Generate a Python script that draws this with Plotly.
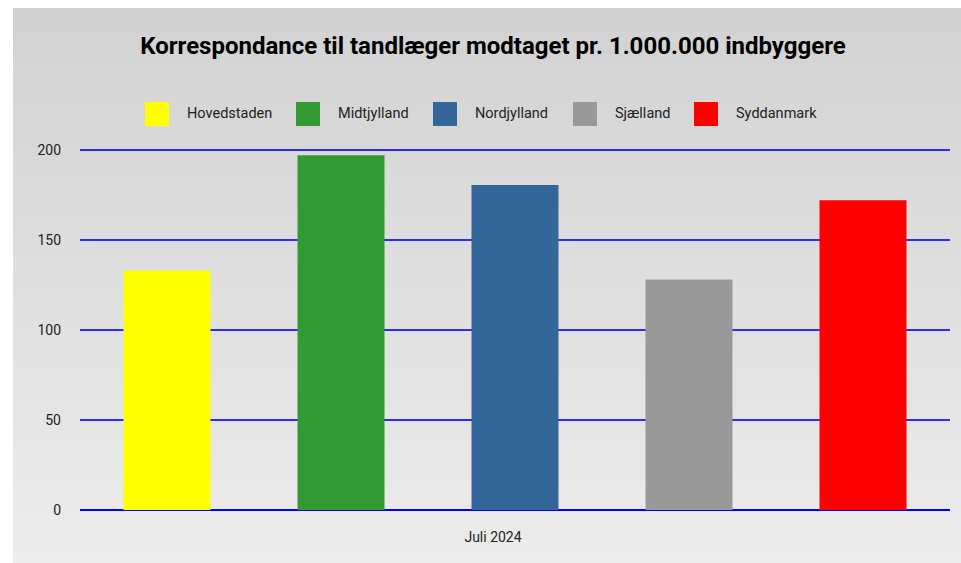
import base64
import plotly.graph_objects as go

# data
regions = ["Hovedstaden", "Midtjylland", "Nordjylland", "Sjælland", "Syddanmark"]
values = [133, 197, 180.5, 128, 172]
colors = ["#ffff00", "#339933", "#336699", "#999999", "#ff0000"]
period = ["Juli 2024"]
y_ticks = [0, 50, 100, 150, 200]

W, H = 961, 563
ML, MR, MT, MB = 80, 11, 148, 53
PW, PH = W - ML - MR, H - MT - MB
PANEL_LEFT, PANEL_TOP = 13, 8  # white strips around the grey panel

# gradient background as an svg image
svg = ('<svg xmlns="http://www.w3.org/2000/svg" width="10" height="100" preserveAspectRatio="none">'
       '<defs><linearGradient id="g" x1="0" y1="0" x2="0" y2="1">'
       '<stop offset="0" stop-color="#d2d2d2"/><stop offset="1" stop-color="#ececec"/>'
       '</linearGradient></defs><rect width="10" height="100" fill="url(#g)"/></svg>')
bg_src = "data:image/svg+xml;base64," + base64.b64encode(svg.encode()).decode()

fig = go.Figure()
for name, val, col in zip(regions, values, colors):
    fig.add_trace(go.Bar(x=period, y=[val], name=name, marker_color=col,
                         marker_line_width=0, showlegend=False))


def px_x(x):
    return (x - ML) / PW


def px_y(y):
    return 1 - (y - MT) / PH


# hand-made legend with large squares
sq_left = [145, 296, 433, 573, 694]
sq_size = 24
y_mid = 114
shapes = []
annotations = []
for name, col, left in zip(regions, colors, sq_left):
    shapes.append(dict(type="rect", xref="paper", yref="paper",
                       x0=px_x(left), x1=px_x(left + sq_size),
                       y0=px_y(y_mid + sq_size / 2), y1=px_y(y_mid - sq_size / 2),
                       fillcolor=col, line_width=0))
    annotations.append(dict(text=name, xref="paper", yref="paper",
                            x=px_x(left + sq_size + 16), y=px_y(y_mid),
                            xanchor="left", yanchor="middle", showarrow=False,
                            font=dict(size=14.5, color="#222222", family="Roboto")))

fig.update_layout(
    width=W, height=H,
    margin=dict(l=ML, r=MR, t=MT, b=MB),
    paper_bgcolor="#ffffff",
    plot_bgcolor="rgba(0,0,0,0)",
    font=dict(family="Roboto", size=14, color="#222222"),
    title=dict(text="<b>Korrespondance til tandlæger modtaget pr. 1.000.000 indbyggere</b>",
               x=493 / W, xanchor="center",
               y=1 - 46 / H, yanchor="middle",
               font=dict(size=24, color="#000000", family="Roboto")),
    barmode="group", bargap=0, bargroupgap=0.5,
    showlegend=False,
    shapes=shapes,
    annotations=annotations,
    images=[dict(source=bg_src, xref="paper", yref="paper",
                 x=(PANEL_LEFT - ML) / PW, y=1 + (MT - PANEL_TOP) / PH,
                 sizex=(W + 10 - PANEL_LEFT) / PW, sizey=(H - PANEL_TOP) / PH,
                 xanchor="left", yanchor="top", sizing="stretch", layer="below")],
    xaxis=dict(showgrid=False, showline=False, zeroline=False,
               ticklabelstandoff=17, ticklabelshift=-22),
    yaxis=dict(range=[0, 201], tickvals=y_ticks, showgrid=True,
               gridcolor="#2b2bff", gridwidth=1.5,
               zeroline=True, zerolinecolor="#0000ff", zerolinewidth=2,
               showline=False, ticklabelstandoff=18),
)

fig.write_html(
    "out.html",
    config={"displayModeBar": False},
    post_script="document.body.style.margin = '0';"
                "document.documentElement.style.overflow = 'hidden';",
)
